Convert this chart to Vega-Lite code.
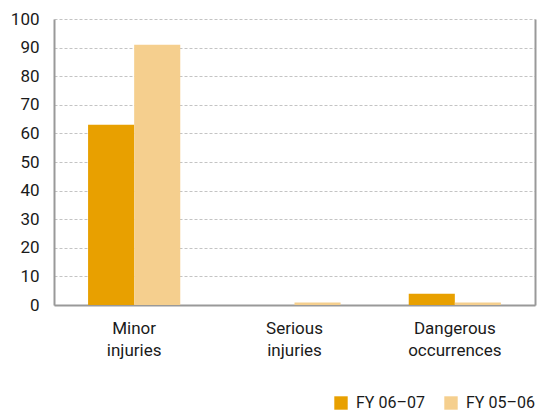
{
  "$schema": "https://vega.github.io/schema/vega-lite/v6.json",
  "width": 481,
  "height": 286,
  "autosize": {"type": "none"},
  "padding": {"left": 54, "top": 19, "right": 4, "bottom": 106},
  "config": {"font": "Roboto", "view": {"stroke": null}},
  "data": {
    "values": [
      {"category": "Minor injuries", "series": "FY 06–07", "value": 63},
      {"category": "Minor injuries", "series": "FY 05–06", "value": 91},
      {"category": "Serious injuries", "series": "FY 06–07", "value": 0},
      {"category": "Serious injuries", "series": "FY 05–06", "value": 0.9},
      {"category": "Dangerous occurrences", "series": "FY 06–07", "value": 3.9},
      {"category": "Dangerous occurrences", "series": "FY 05–06", "value": 0.9}
    ]
  },
  "layer": [
    {
      "mark": {"type": "bar"},
      "encoding": {
        "x": {
          "field": "category",
          "type": "nominal",
          "sort": ["Minor injuries", "Serious injuries", "Dangerous occurrences"],
          "scale": {"paddingInner": 0.425, "paddingOuter": 0.2125},
          "axis": {
            "title": null,
            "labelAngle": 0,
            "ticks": false,
            "domainColor": "#999999",
            "domainWidth": 2,
            "labelFontSize": 17,
            "labelColor": "#1a1a1a",
            "labelPadding": 15,
            "labelExpr": "split(datum.label, ' ')",
            "labelLineHeight": 22,
            "grid": false
          }
        },
        "xOffset": {"field": "series", "sort": ["FY 06–07", "FY 05–06"]},
        "y": {
          "field": "value",
          "type": "quantitative",
          "scale": {"domain": [0, 100]},
          "axis": {
            "title": null,
            "values": [0, 10, 20, 30, 40, 50, 60, 70, 80, 90, 100],
            "ticks": false,
            "domainColor": "#999999",
            "domainWidth": 2,
            "gridDash": [3, 2],
            "gridColor": "#c4c4c4",
            "labelFontSize": 17,
            "labelPadding": 15,
            "labelColor": "#1a1a1a"
          }
        },
        "color": {
          "field": "series",
          "type": "nominal",
          "scale": {"domain": ["FY 06–07", "FY 05–06"], "range": ["#E8A000", "#F5CF8E"]},
          "legend": {
            "title": null,
            "orient": "none",
            "legendX": 279,
            "legendY": 376,
            "direction": "horizontal",
            "symbolType": "square",
            "symbolSize": 180,
            "symbolStrokeWidth": 0,
            "symbolOpacity": 1,
            "labelFontSize": 16,
            "labelColor": "#1a1a1a",
            "labelOffset": 7,
            "columnPadding": 18
          }
        }
      }
    },
    {
      "mark": {"type": "rule", "opacity": 0},
      "encoding": {
        "y": {
          "field": "value",
          "type": "quantitative",
          "scale": {"domain": [0, 100]},
          "axis": {
            "title": null,
            "orient": "right",
            "labels": false,
            "ticks": false,
            "grid": false,
            "domainColor": "#999999",
            "domainWidth": 2
          }
        }
      }
    }
  ],
  "resolve": {"scale": {"y": "independent"}}
}
